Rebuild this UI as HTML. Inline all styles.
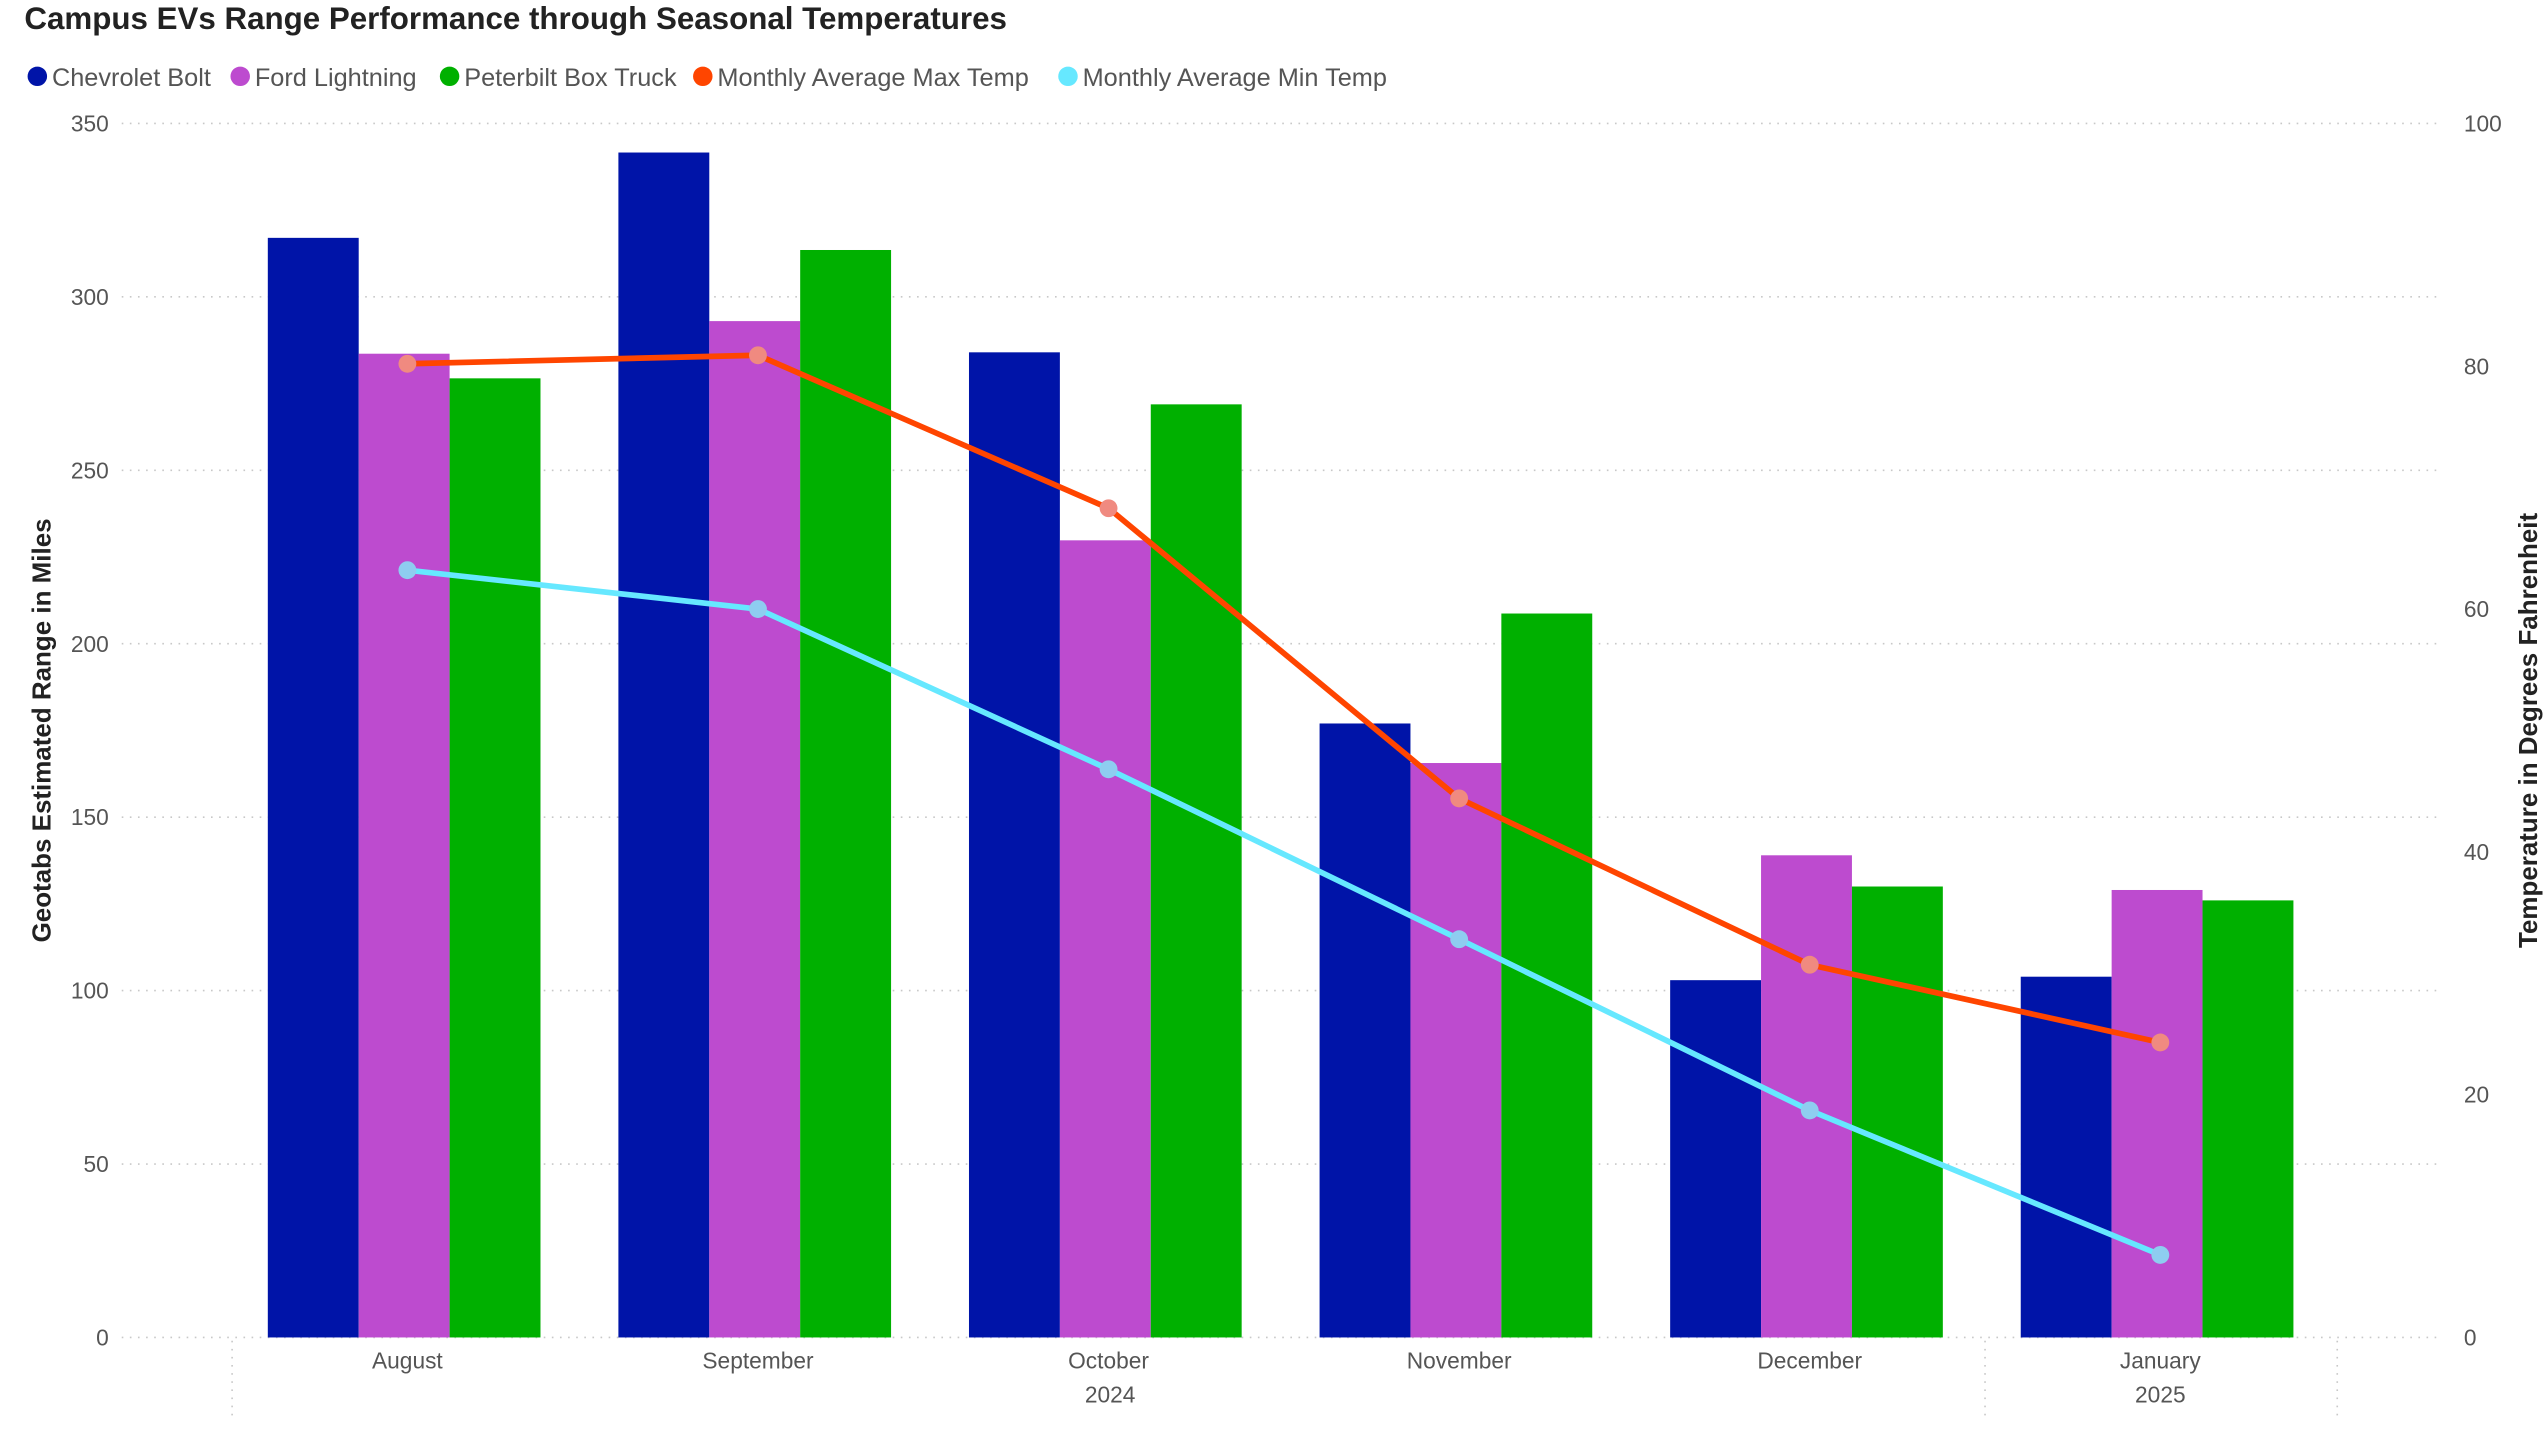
<!DOCTYPE html>
<html><head><meta charset="utf-8"><style>
html,body{margin:0;padding:0;background:#fff;}
svg{display:block;font-family:"Liberation Sans",sans-serif;}
</style></head><body>
<svg id="chart" width="2545" height="1430" viewBox="0 0 1568 881" xmlns="http://www.w3.org/2000/svg">
<text x="15" y="18" font-size="19.3" font-weight="bold" fill="#222">Campus EVs Range Performance through Seasonal Temperatures</text>
<g id="legend"></g>
<g id="grid"></g>
<g id="bars"></g>
<g id="lines"></g>
<g id="axes"></g>
<text transform="translate(31,450) rotate(-90)" text-anchor="middle" font-size="16" font-weight="bold" fill="#222">Geotabs Estimated Range in Miles</text>
<text transform="translate(1563,450) rotate(-90)" text-anchor="middle" font-size="16" font-weight="bold" fill="#222">Temperature in Degrees Fahrenheit</text>
</svg>
<script>
const categories=["August","September","October","November","December","January"];
const boltValues=[317,341.6,284,177,103,104];
const fordValues=[283.6,293,229.8,165.6,139,129];
const peterbiltValues=[276.5,313.5,269,208.7,130,126];
const maxTemp=[80.2,80.9,68.3,44.4,30.7,24.3];
const minTemp=[63.2,60.0,46.8,32.8,18.7,6.8];
const leftTicks=[0,50,100,150,200,250,300,350];
const rightTicks=[0,20,40,60,80,100];
const seriesNames=["Chevrolet Bolt","Ford Lightning","Peterbilt Box Truck","Monthly Average Max Temp","Monthly Average Min Temp"];

const NS="http://www.w3.org/2000/svg";
const X0=75,X1=1503,Y0=824,Y1=76;
const yL=v=>Y0-(v/350)*(Y0-Y1);
const yR=v=>Y0-(v/100)*(Y0-Y1);
const cx=i=>251+i*216;
const BW=56;
function mk(tag,attrs,parent,txt){const e=document.createElementNS(NS,tag);for(const k in attrs)e.setAttribute(k,attrs[k]);if(txt!==undefined)e.textContent=txt;parent.appendChild(e);return e;}
const grid=document.getElementById('grid'),bars=document.getElementById('bars'),lines=document.getElementById('lines'),axes=document.getElementById('axes'),legend=document.getElementById('legend');
leftTicks.forEach(t=>{
  const l=mk('line',{x1:X0,x2:X1,y1:yL(t),y2:yL(t),stroke:'#c8c8c8','stroke-dasharray':'1,4','stroke-width':1},grid);
  
  
  const tx=mk('text',{x:67,y:yL(t)+5,'text-anchor':'end','font-size':14,fill:'#555'},axes,t);
  
  
});
rightTicks.forEach(t=>{
  const tx=mk('text',{x:1518,y:yR(t)+5,'font-size':14,fill:'#555'},axes,t);
  
  
});
const cols=["#0014a8","#bd4bcf","#00b000"];
[boltValues,fordValues,peterbiltValues].forEach((arr,s)=>{
  arr.forEach((v,i)=>{
    const r=mk('rect',{x:cx(i)-2-BW*1.5+s*BW,y:yL(v),width:BW,height:Y0-yL(v),fill:cols[s]},bars);
    
    
  });
});
[[maxTemp,'#ff4500','#f08a80','max-temp'],[minTemp,'#66e8ff','#8ecdf0','min-temp']].forEach(([arr,c,dc,n])=>{
  const p=mk('polyline',{points:arr.map((v,i)=>cx(i)+','+yR(v)).join(' '),fill:'none',stroke:c,'stroke-width':3.5,'stroke-linejoin':'round'},lines);
  
  
  arr.forEach((v,i)=>{
    const d=mk('circle',{cx:cx(i),cy:yR(v),r:5.5,fill:dc},lines);
    
    
  });
});
categories.forEach((c,i)=>{
  const t=mk('text',{x:cx(i),y:843,'text-anchor':'middle','font-size':14,fill:'#555'},axes,c);
  
  
});
[[684,'2024'],[1331,'2025']].forEach(([x,y])=>{
  const t=mk('text',{x:x,y:864,'text-anchor':'middle','font-size':14,fill:'#555'},axes,y);
  
  
});
[143,1223,1440].forEach(x=>{
  const l=mk('line',{x1:x,x2:x,y1:826,y2:872,stroke:'#c8c8c8','stroke-dasharray':'1,4'},axes);
  
  
});
const legCols=["#0014a8","#bd4bcf","#00b000","#ff4500","#66e8ff"];
const legX=[23,148,277,433,658];
seriesNames.forEach((n,i)=>{
  const g=mk('g',{},legend);
  
  
  mk('circle',{cx:legX[i],cy:47,r:6,fill:legCols[i]},g);
  mk('text',{x:legX[i]+9,y:53,'font-size':15.6,fill:'#555'},g,n);
});
</script>
</body></html>
